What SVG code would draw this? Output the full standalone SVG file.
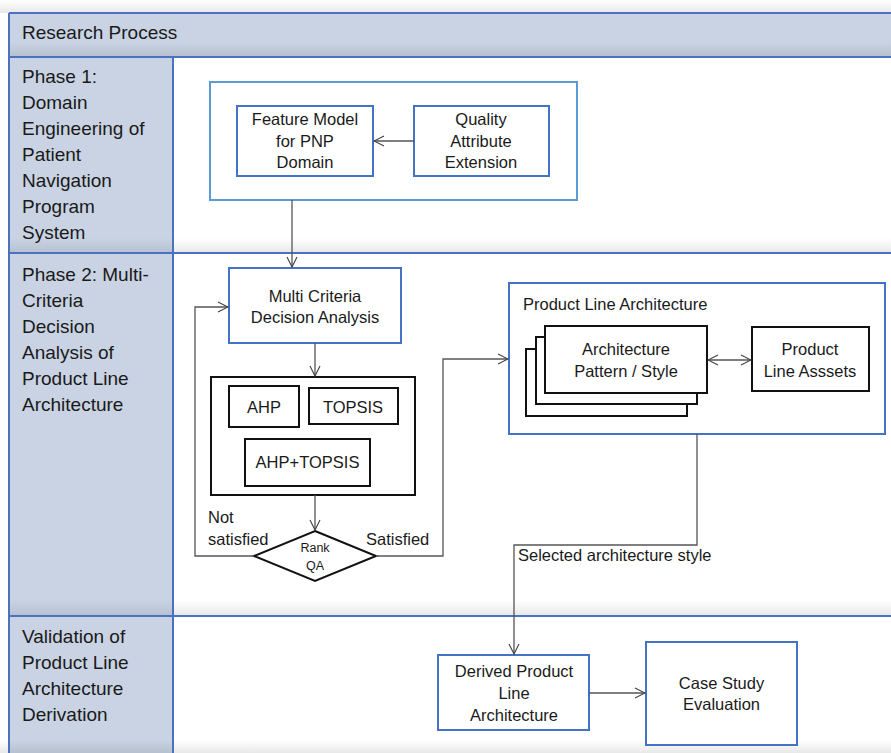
<svg xmlns="http://www.w3.org/2000/svg" width="891" height="753" viewBox="0 0 891 753">
<defs>
<linearGradient id="shd" x1="0" y1="0" x2="0" y2="1">
<stop offset="0" stop-color="#000" stop-opacity="0"/>
<stop offset="1" stop-color="#000" stop-opacity="0.09"/>
</linearGradient>
<marker id="arr" viewBox="0 0 12 12" refX="11" refY="6" markerWidth="12" markerHeight="12" markerUnits="userSpaceOnUse" orient="auto-start-reverse">
<path d="M1,1 L11,6 L1,11" fill="none" stroke="#404040" stroke-width="1.1"/>
</marker>
<style>
.lane{font-family:"Liberation Sans",Arial,sans-serif;font-size:19px;fill:#1a1a1a}
.t{font-family:"Liberation Sans",Arial,sans-serif;font-size:16.5px;fill:#1a1a1a;text-anchor:middle}
.tl{font-family:"Liberation Sans",Arial,sans-serif;font-size:16.5px;fill:#1a1a1a}
.sm{font-family:"Liberation Sans",Arial,sans-serif;font-size:12.5px;fill:#1a1a1a;text-anchor:middle}
.bb{fill:#fff;stroke:#4472C4;stroke-width:2}
.lb{fill:#fff;stroke:#5B9BD5;stroke-width:2}
.kb{fill:#fff;stroke:#111;stroke-width:2}
.ln{fill:none;stroke:#555;stroke-width:1.3}
.fr{stroke:#4A72C0;stroke-width:2}
</style>
</defs>
<rect x="0" y="0" width="891" height="753" fill="#fff"/>
<rect x="0" y="0" width="891" height="13" fill="url(#shd)"/>
<g id="frame">
<rect x="9" y="13" width="890" height="44" fill="#C9D3E3"/>
<rect x="9" y="57" width="164" height="700" fill="#C9D3E3"/>
<rect x="173" y="238" width="720" height="15" fill="url(#shd)"/>
<rect x="9" y="238" width="164" height="15" fill="url(#shd)"/>
<rect x="173" y="600" width="720" height="16" fill="url(#shd)"/>
<rect x="9" y="600" width="164" height="16" fill="url(#shd)"/>
<rect x="9" y="42" width="890" height="15" fill="url(#shd)"/>
<rect x="0" y="740" width="891" height="13" fill="url(#shd)"/>
<line class="fr" x1="9" y1="13" x2="891" y2="13"/>
<line class="fr" x1="9" y1="57" x2="891" y2="57"/>
<line class="fr" x1="9" y1="253" x2="891" y2="253"/>
<line class="fr" x1="9" y1="616" x2="891" y2="616"/>
<line class="fr" x1="9" y1="13" x2="9" y2="753"/>
<line class="fr" x1="173" y1="57" x2="173" y2="753"/>
<text class="lane" x="22" y="39">Research Process</text>
</g>
<g id="lane1">
<text class="lane" x="22"><tspan x="22" y="83">Phase 1:</tspan><tspan x="22" y="109">Domain</tspan><tspan x="22" y="135">Engineering of</tspan><tspan x="22" y="161">Patient</tspan><tspan x="22" y="187">Navigation</tspan><tspan x="22" y="213">Program</tspan><tspan x="22" y="239">System</tspan></text>
</g>
<g id="lane2">
<text class="lane"><tspan x="22" y="281">Phase 2: Multi-</tspan><tspan x="22" y="307">Criteria</tspan><tspan x="22" y="333">Decision</tspan><tspan x="22" y="359">Analysis of</tspan><tspan x="22" y="385">Product Line</tspan><tspan x="22" y="411">Architecture</tspan></text>
</g>
<g id="lane3">
<text class="lane"><tspan x="22" y="643">Validation of</tspan><tspan x="22" y="669">Product Line</tspan><tspan x="22" y="695">Architecture</tspan><tspan x="22" y="721">Derivation</tspan></text>
</g>
<g id="phase1-box"><rect class="lb" x="210" y="82" width="367" height="118"/></g>
<g id="feature-model">
<rect class="bb" x="237" y="106" width="136" height="70"/>
<text class="t"><tspan x="305" y="125">Feature Model</tspan><tspan x="305" y="147">for PNP</tspan><tspan x="305" y="168">Domain</tspan></text>
</g>
<g id="quality-attr">
<rect class="bb" x="414" y="106" width="135" height="70"/>
<text class="t"><tspan x="481" y="125">Quality</tspan><tspan x="481" y="147">Attribute</tspan><tspan x="481" y="168">Extension</tspan></text>
</g>
<g id="mcda">
<rect class="bb" x="229" y="268" width="172" height="75"/>
<text class="t"><tspan x="315" y="302">Multi Criteria</tspan><tspan x="315" y="323">Decision Analysis</tspan></text>
</g>
<g id="methods">
<rect class="kb" x="211" y="377" width="204" height="118"/>
<rect class="kb" x="229" y="386" width="70" height="41"/>
<text class="t" x="264" y="413">AHP</text>
<rect class="kb" x="309" y="388" width="89" height="36"/>
<text class="t" x="353" y="413">TOPSIS</text>
<rect class="kb" x="245" y="439" width="125" height="47"/>
<text class="t" x="307.5" y="468">AHP+TOPSIS</text>
</g>
<g id="rank-qa">
<polygon points="315,531 376,556 315,581 254,556" fill="#fff" stroke="#111" stroke-width="2"/>
<text class="sm"><tspan x="315" y="552">Rank</tspan><tspan x="315" y="570">QA</tspan></text>
</g>
<g id="pla">
<rect class="bb" x="509" y="283" width="376" height="151"/>
<text class="tl" x="523" y="310">Product Line Architecture</text>
<rect class="kb" x="526" y="349" width="161" height="67"/>
<rect class="kb" x="536" y="337" width="161" height="67"/>
<rect class="kb" x="545" y="326" width="162" height="67"/>
<text class="t"><tspan x="626" y="355">Architecture</tspan><tspan x="626" y="377">Pattern / Style</tspan></text>
</g>
<g id="pl-assets">
<rect class="kb" x="752" y="327" width="117" height="64"/>
<text class="t"><tspan x="810" y="355">Product</tspan><tspan x="810" y="377">Line Asssets</tspan></text>
</g>
<g id="derived">
<rect class="bb" x="438" y="655" width="151" height="75"/>
<text class="t"><tspan x="514" y="677">Derived Product</tspan><tspan x="514" y="699">Line</tspan><tspan x="514" y="721">Architecture</tspan></text>
</g>
<g id="case-study">
<rect class="bb" x="646" y="642" width="151" height="103"/>
<text class="t"><tspan x="721.5" y="689">Case Study</tspan><tspan x="721.5" y="710">Evaluation</tspan></text>
</g>
<g id="connectors">
<line class="ln" x1="414" y1="141" x2="374" y2="141" marker-end="url(#arr)"/>
<line class="ln" x1="292" y1="200" x2="292" y2="267" marker-end="url(#arr)"/>
<line class="ln" x1="315" y1="343" x2="315" y2="376" marker-end="url(#arr)"/>
<line class="ln" x1="315" y1="495" x2="315" y2="530" marker-end="url(#arr)"/>
<polyline class="ln" points="254,556 195,556 195,307 228,307" marker-end="url(#arr)"/>
<polyline class="ln" points="376,556 443,556 443,359 508,359" marker-end="url(#arr)"/>
<line class="ln" x1="708" y1="360" x2="751" y2="360" marker-start="url(#arr)" marker-end="url(#arr)"/>
<polyline class="ln" points="697,434 697,545 514,545 514,654" marker-end="url(#arr)"/>
<line class="ln" x1="589" y1="693" x2="645" y2="693" marker-end="url(#arr)"/>
<text class="tl" x="208" y="523">Not</text>
<text class="tl" x="208" y="545">satisfied</text>
<text class="tl" x="366" y="545">Satisfied</text>
<text class="tl" x="518" y="561">Selected architecture style</text>
</g>
</svg>
